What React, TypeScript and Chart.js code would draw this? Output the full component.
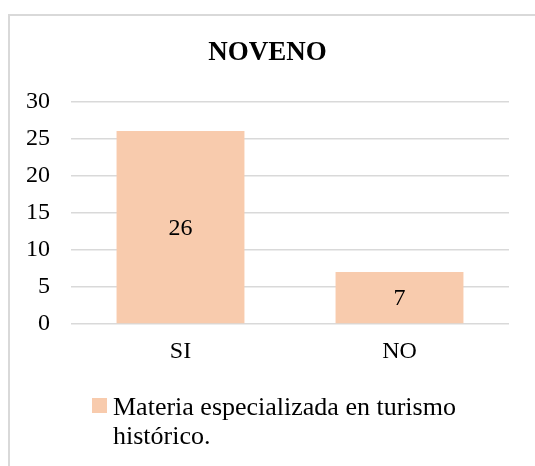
import React, { useEffect, useRef } from "react";
import { Chart, registerables } from "chart.js";

Chart.register(...registerables);

const categories = ["SI", "NO"];
const values = [26, 7];
const seriesLabel = ["Materia especializada en turismo", "histórico."];
const chartTitle = "NOVENO";
const yTicks = { min: 0, max: 30, step: 5 };

const FONT = "'Liberation Serif', 'Times New Roman', serif";
const BAR_COLOR = "#F8CBAD";

const valueLabels = {
  id: "valueLabels",
  afterDatasetsDraw(chart: any) {
    const ctx = chart.ctx;
    ctx.save();
    ctx.font = `24px ${FONT}`;
    ctx.fillStyle = "#000";
    ctx.textAlign = "center";
    ctx.textBaseline = "middle";
    chart.data.datasets.forEach((ds: any, di: number) => {
      const meta = chart.getDatasetMeta(di);
      meta.data.forEach((el: any, i: number) => {
        const y = (el.y + el.base) / 2 + 1.5;
        ctx.fillText(String(ds.data[i]), el.x, y);
      });
    });
    ctx.restore();
  },
};

const customLegend = {
  id: "customLegend",
  afterDraw(chart: any) {
    const ctx = chart.ctx;
    const top = chart.chartArea.bottom;
    ctx.save();
    ctx.fillStyle = BAR_COLOR;
    ctx.fillRect(92, top + 74, 15, 15);
    ctx.fillStyle = "#000";
    ctx.font = `26px ${FONT}`;
    ctx.textAlign = "left";
    ctx.textBaseline = "alphabetic";
    seriesLabel.forEach((line, i) => {
      ctx.fillText(line, 113, top + 91 + i * 29);
    });
    ctx.restore();
  },
};

export default function App() {
  const ref = useRef<HTMLCanvasElement>(null);
  useEffect(() => {
    if (!ref.current) return;
    const chart = new Chart(ref.current, {
      type: "bar",
      data: {
        labels: categories,
        datasets: [
          {
            label: seriesLabel.join(" "),
            data: values,
            backgroundColor: BAR_COLOR,
            borderWidth: 0,
            barPercentage: 0.584,
            categoryPercentage: 1,
          },
        ],
      },
      options: {
        animation: false,
        responsive: false,
        maintainAspectRatio: false,
        layout: { padding: { top: 0, left: 26, right: 26, bottom: 86 } },
        plugins: {
          tooltip: { enabled: false },
          legend: { display: false },
          title: {
            display: true,
            text: chartTitle,
            color: "#000",
            font: { family: FONT, size: 27, weight: "bold", lineHeight: 1.2 },
            padding: { top: 37, bottom: 32 },
          },
        },
        scales: {
          x: {
            grid: { display: false, drawTicks: false },
            border: { display: false },
            ticks: {
              color: "#000",
              font: { family: FONT, size: 24, lineHeight: 1.2 },
              padding: 13.6,
            },
          },
          y: {
            min: yTicks.min,
            max: yTicks.max,
            position: "left",
            ticks: {
              stepSize: yTicks.step,
              color: "#000",
              font: { family: FONT, size: 24 },
              padding: 21,
            },
            grid: { color: "#d9d9d9", lineWidth: 1.5, drawTicks: false },
            border: { display: false },
            afterFit: (s: any) => {
              s.width = 45;
            },
          },
        },
      } as any,
      plugins: [valueLabels, customLegend],
    });
    return () => chart.destroy();
  }, []);

  return (
    <div
      style={{
        position: "fixed",
        left: 0,
        top: 0,
        width: 535,
        height: 466,
        overflow: "hidden",
        background: "#fff",
      }}
    >
      <div
        style={{
          position: "absolute",
          left: 8,
          top: 14,
          width: 540,
          height: 470,
          borderTop: "2px solid #d9d9d9",
          borderLeft: "2px solid #d9d9d9",
        }}
      />
      <canvas
        ref={ref}
        width={535}
        height={466}
        style={{ position: "absolute", left: 0, top: 0, width: 535, height: 466 }}
      />
    </div>
  );
}
